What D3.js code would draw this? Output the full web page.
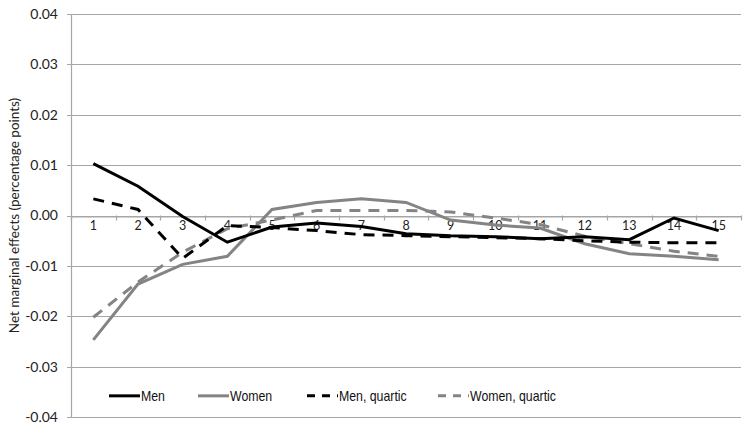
<!DOCTYPE html>
<meta charset="utf-8">
<script src="https://d3js.org/d3.v7.min.js"></script>
<style>
  body { margin: 0; background: #fff; }
</style>
<div id="my_dataviz"></div>
<script>

  // data
  const categories = d3.range(1, 16);
  const men          = [0.0103, 0.0058, -0.0002, -0.0053, -0.0023, -0.0015, -0.0022, -0.0036, -0.0040, -0.0042, -0.0046, -0.0042, -0.0048, -0.0005, -0.0030];
  const women        = [-0.0247, -0.0136, -0.0097, -0.0081, 0.0012, 0.0026, 0.0033, 0.0026, -0.0009, -0.0019, -0.0025, -0.0056, -0.0076, -0.0081, -0.0088];
  const menQuartic   = [0.0033, 0.0012, -0.0085, -0.0020, -0.0024, -0.0030, -0.0038, -0.0040, -0.0042, -0.0044, -0.0046, -0.0050, -0.0053, -0.0054, -0.0054];
  const womenQuartic = [-0.0202, -0.0132, -0.0073, -0.0026, -0.0009, 0.0010, 0.0010, 0.0010, 0.0007, -0.0005, -0.0018, -0.0041, -0.0056, -0.0071, -0.0081];
  const yTicks = [0.04, 0.03, 0.02, 0.01, 0, -0.01, -0.02, -0.03, -0.04];

  const seriesList = [
    {name: "Men", values: men, color: "#000", dash: null},
    {name: "Women", values: women, color: "#848484", dash: null},
    {name: "Men, quartic", values: menQuartic, color: "#000", dash: "11,8"},
    {name: "Women, quartic", values: womenQuartic, color: "#848484", dash: "11,8"}
  ];

  const margin = {top: 14, right: 9, bottom: 9, left: 71},
      width = 750 - margin.left - margin.right,
      height = 426 - margin.top - margin.bottom;

  const svg = d3.select("#my_dataviz")
    .append("svg")
      .attr("width", 750)
      .attr("height", 426)
    .append("g")
      .attr("transform", `translate(${margin.left},${margin.top})`);

  const x = d3.scaleBand()
    .domain(categories)
    .range([0, width]);

  const y = d3.scaleLinear()
    .domain([-0.04, 0.04])
    .range([height, 0]);

  // gridlines
  svg.append("g")
    .selectAll("line")
    .data(yTicks)
    .join("line")
      .attr("x1", -4)
      .attr("x2", width)
      .attr("y1", d => Math.round(y(d)) + 0.5)
      .attr("y2", d => Math.round(y(d)) + 0.5)
      .attr("stroke", "#a6a6a6")
      .attr("stroke-width", 1.2);

  // y axis
  const yAxis = svg.append("g")
    .call(d3.axisLeft(y).tickValues(yTicks).tickFormat(d3.format(".2f")).tickSize(4));
  yAxis.select(".domain").attr("stroke", "#a6a6a6").attr("stroke-width", 1.2);
  yAxis.selectAll(".tick line").remove();
  yAxis.selectAll(".tick text")
    .attr("x", -13)
    .style("font-family", "Lato, 'Open Sans', sans-serif")
    .style("font-size", "14px")
    .attr("fill", "#222")
    .text(d => d < 0 ? "-" + Math.abs(d).toFixed(2) : d.toFixed(2));

  // x axis on the zero line
  const xAxis = svg.append("g")
    .attr("transform", `translate(0, ${Math.round(y(0)) + 0.5})`)
    .call(d3.axisBottom(x).tickSize(0));
  xAxis.select(".domain").attr("stroke", "#a6a6a6").attr("stroke-width", 1.2);
  xAxis.selectAll(".tick text")
    .attr("y", 5)
    .style("font-family", "Lato, 'Open Sans', sans-serif")
    .style("font-size", "12.5px")
    .attr("fill", "#222");

  // tick marks between categories
  svg.append("g")
    .selectAll("line")
    .data(d3.range(0, categories.length + 1))
    .join("line")
      .attr("x1", i => Math.round(i * x.step()) + 0.5)
      .attr("x2", i => Math.round(i * x.step()) + 0.5)
      .attr("y1", y(0))
      .attr("y2", y(0) + 5)
      .attr("stroke", "#a6a6a6")
      .attr("stroke-width", 1.2);

  // y label
  svg.append("text")
    .attr("transform", `translate(${-52}, ${y(0)}) rotate(-90)`)
    .attr("text-anchor", "middle")
    .style("font-family", "Lato, 'Open Sans', sans-serif")
    .style("font-size", "13.5px")
    .attr("fill", "#222")
    .text("Net marginal effects (percentage points)");

  const line = d3.line()
    .x((d, i) => x(categories[i]) + x.bandwidth() / 2)
    .y(d => y(d));

  // women first so men draw on top
  const order = [1, 3, 2, 0];
  svg.append("g")
    .selectAll("path")
    .data(order.map(i => seriesList[i]))
    .join("path")
      .attr("d", d => line(d.values))
      .attr("fill", "none")
      .attr("stroke", d => d.color)
      .attr("stroke-width", 3)
      .attr("stroke-dasharray", d => d.dash);

  // legend
  const legendX = [38, 127, 236, 367];
  const legend = svg.append("g")
    .attr("transform", `translate(0, ${y(-0.0358)})`);
  const item = legend.selectAll("g")
    .data(seriesList)
    .join("g")
      .attr("transform", (d, i) => `translate(${legendX[i]}, 0)`);
  item.append("line")
    .attr("x1", 0)
    .attr("x2", 31)
    .attr("stroke", d => d.color)
    .attr("stroke-width", 3)
    .attr("stroke-dasharray", d => d.dash ? "8,7" : null);
  // narrow the legend text a little, like the reference
  item.append("text")
    .attr("transform", "translate(32, 0) scale(0.88, 1)")
    .attr("dy", "0.35em")
    .style("font-family", "'Liberation Sans', Arial, sans-serif")
    .style("font-size", "14px")
    .attr("fill", "#111")
    .text(d => d.name);

</script>
